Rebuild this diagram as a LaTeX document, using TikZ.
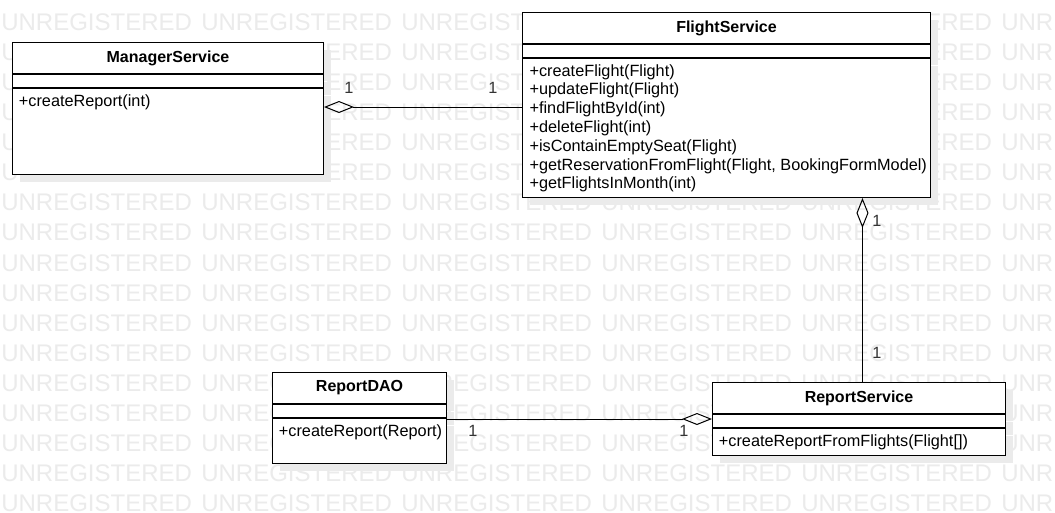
\documentclass[tikz,border=0pt]{standalone}
\usepackage{fontspec}
\setmainfont{Liberation Sans}
\usetikzlibrary{arrows.meta,positioning,shadows}

\begin{document}
\begin{tikzpicture}[x=0.75pt,y=-0.75pt,
    watermark/.style={anchor=west, inner sep=0pt, text=black!8, font=\fontsize{18}{20}\selectfont},
    compartment/.style={draw=black, fill=white, line width=0.75pt, inner sep=0pt, anchor=north west,
        drop shadow={shadow xshift=5.25pt, shadow yshift=-5.25pt, fill=black!8, opacity=1}},
    classname/.style={font=\fontsize{12}{14}\selectfont\bfseries},
    members/.style={anchor=north west, align=left, inner sep=0pt, font=\fontsize{12.2}{14.1}\selectfont},
    mult/.style={inner sep=0pt, text=black!80, font=\fontsize{12.2}{14}\selectfont},
    aggr/.style={draw=black, line width=0.75pt, {Diamond[open, length=22.5pt, width=9pt]}-}]

    %%%%% BACKGROUND %%%%%
    \fill[white] (0,0) rectangle (1055,512);
    \useasboundingbox (0,0) rectangle (1055,512);
    \begin{scope}
        \clip (0,0) rectangle (1055,512);
        \foreach \row in {0,...,16}
            \foreach \col in {0,...,5}
                \node[watermark] (wm-\row-\col) at ({200*\col+1},{22+30.1*\row}) {UNREGISTERED};
    \end{scope}

    %%%%% MANAGERSERVICE %%%%%
    \node[compartment, minimum width=233.25pt, minimum height=23.25pt, classname] (mgrhead) at (12,42) {ManagerService};
    \node[compartment, minimum width=233.25pt, minimum height=9.75pt, below=0pt of mgrhead] (mgrattr) {};
    \node[compartment, minimum width=233.25pt, minimum height=64.5pt, below=0pt of mgrattr] (mgrops) {};
    \node[members, below right=4.5pt and 5pt of mgrops.north west] (mgrtext) {+createReport(int)};

    %%%%% FLIGHTSERVICE %%%%%
    \node[compartment, minimum width=306pt, minimum height=23.25pt, classname] (flighthead) at (522,12) {FlightService};
    \node[compartment, minimum width=306pt, minimum height=9.75pt, below=0pt of flighthead] (flightattr) {};
    \node[compartment, minimum width=306pt, minimum height=104.25pt, below=0pt of flightattr] (flightops) {};
    \node[members, below right=4.5pt and 5.5pt of flightops.north west] (flighttext)
        {+createFlight(Flight)\\+updateFlight(Flight)\\+findFlightById(int)\\+deleteFlight(int)\\%
         +isContainEmptySeat(Flight)\\+getReservationFromFlight(Flight, BookingFormModel)\\+getFlightsInMonth(int)};

    %%%%% REPORTDAO %%%%%
    \node[compartment, minimum width=130.5pt, minimum height=23.25pt, classname] (daohead) at (272,372) {ReportDAO};
    \node[compartment, minimum width=130.5pt, minimum height=9.75pt, below=0pt of daohead] (daoattr) {};
    \node[compartment, minimum width=130.5pt, minimum height=33.75pt, below=0pt of daoattr] (daoops) {};
    \node[members, below right=4.5pt and 5pt of daoops.north west] (daotext) {+createReport(Report)};

    %%%%% REPORTSERVICE %%%%%
    \node[compartment, minimum width=219.75pt, minimum height=23.25pt, classname] (rsvhead) at (712,382) {ReportService};
    \node[compartment, minimum width=219.75pt, minimum height=9.75pt, below=0pt of rsvhead] (rsvattr) {};
    \node[compartment, minimum width=219.75pt, minimum height=20.25pt, below=0pt of rsvattr] (rsvops) {};
    \node[members, below right=4.5pt and 5pt of rsvops.north west] (rsvtext) {+createReportFromFlights(Flight[])};

    %%%%% CONNECTORS %%%%%
    \draw[aggr] ([yshift=-14.25pt]mgrops.north east) -- ([yshift=-36.75pt]flightops.north west);
    \coordinate (rsvtop) at ([xshift=2.6pt]rsvhead.north);
    \draw[aggr] (flightops.south -| rsvtop) -- (rsvtop);
    \coordinate (rsvleft) at ([yshift=1.5pt]rsvattr.west);
    \draw[aggr] (rsvleft) -- (rsvleft -| daoops.east);

    \node[mult] (mgrmult) at (349,88) {1};
    \node[mult] (flightmultl) at (493,88) {1};
    \node[mult] (flightmultb) at (877,221) {1};
    \node[mult] (rsvmultt) at (877,353) {1};
    \node[mult] (daomult) at (473,431) {1};
    \node[mult] (rsvmultl) at (684,431) {1};
\end{tikzpicture}
\end{document}
